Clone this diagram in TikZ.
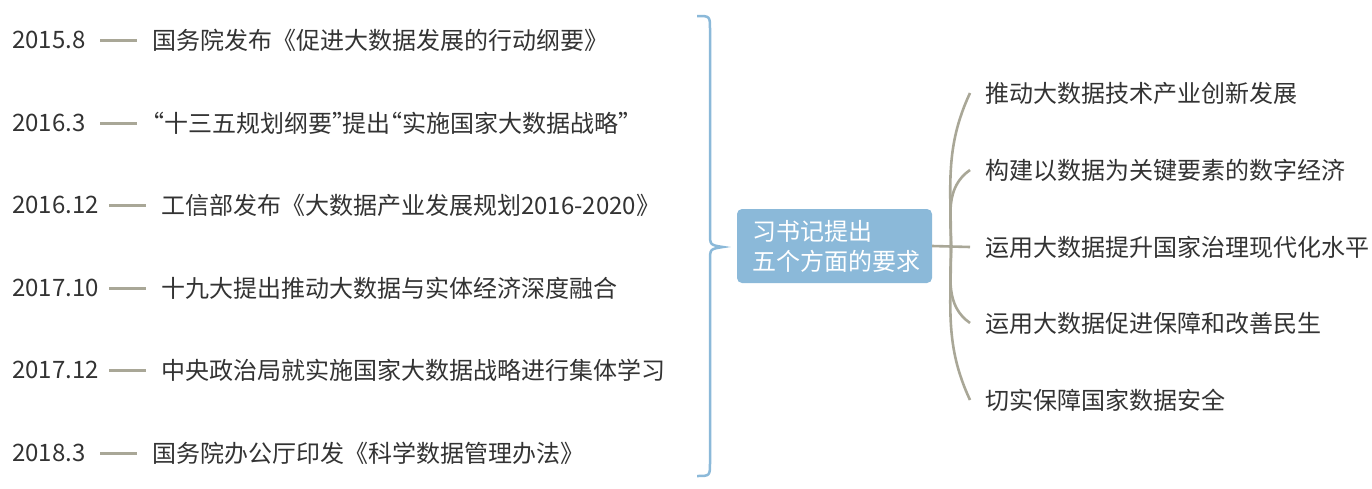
\documentclass[tikz,border=0pt]{standalone}
\usepackage{fontspec}
\setmainfont{Noto Sans CJK SC}
\usetikzlibrary{positioning}
\definecolor{ink}{HTML}{333333}
\definecolor{bluefill}{HTML}{8BB9D9}
\definecolor{twig}{HTML}{A9A797}
% narrow curly quotes
\newcommand{\oq}{\makebox[12pt][r]{“}}
\newcommand{\cq}{\makebox[10pt][l]{”}}
\begin{document}
\begin{tikzpicture}
 [x=1pt,y=-1pt,every node/.style={font=\fontsize{24}{30}\selectfont,text=ink,inner sep=0pt},
  date/.style={anchor=west},
  event/.style={anchor=west},
  item/.style={anchor=west},
  centre/.style={fill=bluefill,rounded corners=5pt,text=white,align=left,text width=165pt,inner xsep=15pt,minimum height=74pt},
  dashline/.style={draw=twig,line width=3pt},
  branch/.style={draw=twig,line width=2.6pt},
  brace/.style={draw=bluefill,line width=2.5pt}]
  \useasboundingbox (0,0) rectangle (1372,488);

  \node[date] (d1) at (12,40)  {2015.8};
  \node[date] (d2) at (12,123) {2016.3};
  \node[date] (d3) at (12,205) {2016.12};
  \node[date] (d4) at (12,288) {2017.10};
  \node[date] (d5) at (12,370) {2017.12};
  \node[date] (d6) at (12,453) {2018.3};

  \node[event] (e1) at (152,40)  {国务院发布《促进大数据发展的行动纲要》};
  \node[event] (e2) at (152,123) {\oq 十三五规划纲要\cq 提出\oq 实施国家大数据战略\cq};
  \node[event] (e3) at (161,205) {工信部发布《大数据产业发展规划2016-2020》};
  \node[event] (e4) at (161,288) {十九大提出推动大数据与实体经济深度融合};
  \node[event] (e5) at (161,370) {中央政治局就实施国家大数据战略进行集体学习};
  \node[event] (e6) at (152,453) {国务院办公厅印发《科学数据管理办法》};

  \foreach \n in {1,...,6}
    \draw[dashline] ([xshift=-52pt]e\n.west) -- ([xshift=-15pt]e\n.west);

  \draw[brace] (697,16) .. controls (710,16) .. (710,30) -- (710,233)
    .. controls (710,245) .. (723,247) .. controls (710,249) .. (710,261)
    -- (710,462) .. controls (710,476) .. (697,476);

  \node[centre] (cn) at (834.5,246) {习书记提出\\五个方面的要求};

  \node[item] (r1) at (985,93)  {推动大数据技术产业创新发展};
  \node[item] (r2) at (985,170) {构建以数据为关键要素的数字经济};
  \node[item] (r3) at (985,247) {运用大数据提升国家治理现代化水平};
  \node[item] (r4) at (985,323) {运用大数据促进保障和改善民生};
  \node[item] (r5) at (985,400) {切实保障国家数据安全};

  \coordinate (hub) at (951,247);
  \draw[branch] (cn.east) -- ([xshift=-15pt]r3.west);
  \foreach \n/\o/\i in {1/90/245,2/90/215,4/270/145,5/270/115}
    \draw[branch] (hub) to[out=\o,in=\i] ([xshift=-15pt]r\n.west);
\end{tikzpicture}
\end{document}
